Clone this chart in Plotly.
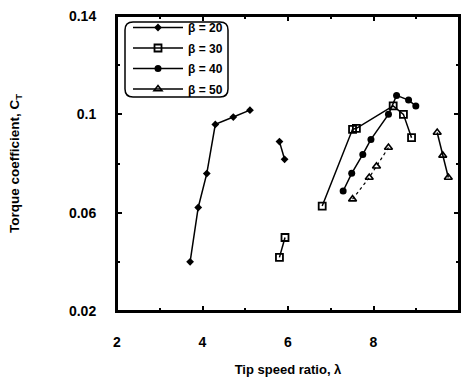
import plotly.graph_objects as go

# ---- data ----
b20_x = [3.71, 3.90, 4.10, 4.30, 4.72, 5.11, None, 5.80, 5.92]
b20_y = [0.0400, 0.0621, 0.0759, 0.0959, 0.0989, 0.1017, None, 0.0889, 0.0817]

b30_x = [5.80, 5.93, None, 6.80, 7.51, 7.60, 8.46, 8.70, 8.89]
b30_y = [0.0418, 0.0499, None, 0.0627, 0.0939, 0.0943, 0.1034, 0.1000, 0.0905]

b40_x = [7.29, 7.49, 7.75, 7.94, 8.35, 8.54, 8.82, 8.99]
b40_y = [0.0688, 0.0760, 0.0837, 0.0898, 0.1000, 0.1077, 0.1058, 0.1034]

b50_x = [7.51, 7.90, 8.07, 8.35]
b50_y = [0.0655, 0.0743, 0.0789, 0.0865]
b50b_x = [9.49, 9.62, 9.75]
b50b_y = [0.0926, 0.0833, 0.0743]

x_range = [2, 10]
y_range = [0.02, 0.14]
x_ticks = [2, 4, 6, 8, 10]
y_ticks = [0.02, 0.06, 0.1, 0.14]
y_labels = ["0.02", "0.06", "0.1", "0.14"]
y_minor = [0.04, 0.08, 0.12]

FONT = "Liberation Sans, Arial, sans-serif"

fig = go.Figure()
fig.add_trace(go.Scatter(x=b20_x, y=b20_y, mode="lines+markers", name="β = 20", legendgroup="a",
                         line=dict(color="black", width=1.5),
                         marker=dict(symbol="diamond", size=6, color="black")))
fig.add_trace(go.Scatter(x=b30_x, y=b30_y, mode="lines+markers", name="β = 30", legendgroup="b",
                         line=dict(color="black", width=1.5),
                         marker=dict(symbol="square-open", size=7, color="black",
                                     line=dict(width=1.8, color="black"))))
fig.add_trace(go.Scatter(x=b40_x, y=b40_y, mode="lines+markers", name="β = 40", legendgroup="c",
                         line=dict(color="black", width=1.5),
                         marker=dict(symbol="circle", size=7, color="black")))
fig.add_trace(go.Scatter(x=b50_x, y=b50_y, mode="lines+markers", showlegend=False, legendgroup="d",
                         line=dict(color="black", width=1.2, dash="dot"),
                         marker=dict(symbol="triangle-up-open", size=7, color="black",
                                     line=dict(width=1.6, color="black"))))
fig.add_trace(go.Scatter(x=b50b_x, y=b50b_y, mode="lines+markers", name="β = 50", legendgroup="d",
                         line=dict(color="black", width=1.5),
                         marker=dict(symbol="triangle-up-open", size=7, color="black",
                                     line=dict(width=1.6, color="black"))))

# plot area in pixels -> paper helpers
L, R, T, B = 117.0, 459.0, 16.0, 311.0
def px(xp): return (xp - L) / (R - L)
def py(yp): return (B - yp) / (B - T)

# rounded legend box
x0, x1, y0, y1, r = 125, 228, 22, 97, 8
path = (f"M {px(x0+r)},{py(y0)} L {px(x1-r)},{py(y0)} Q {px(x1)},{py(y0)} {px(x1)},{py(y0+r)} "
        f"L {px(x1)},{py(y1-r)} Q {px(x1)},{py(y1)} {px(x1-r)},{py(y1)} "
        f"L {px(x0+r)},{py(y1)} Q {px(x0)},{py(y1)} {px(x0)},{py(y1-r)} "
        f"L {px(x0)},{py(y0+r)} Q {px(x0)},{py(y0)} {px(x0+r)},{py(y0)} Z")
fig.add_shape(type="path", path=path, xref="paper", yref="paper",
              line=dict(color="black", width=1.5), layer="above")
# plot frame
fig.add_shape(type="rect", xref="paper", yref="paper", x0=0, y0=0, x1=1, y1=1,
              line=dict(color="black", width=2), layer="above")

axis_common = dict(showline=True, linecolor="black", linewidth=2, mirror="allticks",
                   ticks="inside", ticklen=5, tickwidth=1.5, tickcolor="black",
                   showgrid=False, zeroline=False,
                   tickfont=dict(family=FONT, size=14, color="black", weight="bold"))

fig.update_xaxes(range=x_range, tickvals=x_ticks,
                 minor=dict(dtick=1, ticks="inside", ticklen=3, tickwidth=1.5, tickcolor="black"),
                 ticklabelstandoff=17,
                 title=dict(text="Tip speed ratio, λ", standoff=16,
                            font=dict(family=FONT, size=13, color="black", weight="bold")),
                 **axis_common)
fig.update_yaxes(range=y_range, tickvals=y_ticks, ticktext=y_labels,
                 minor=dict(tickvals=y_minor, ticks="inside", ticklen=3, tickwidth=1.5, tickcolor="black"),
                 ticklabelstandoff=16,
                 title=dict(text="Torque coefficient, C<sub>T</sub>", standoff=46,
                            font=dict(family=FONT, size=13.5, color="black", weight="bold")),
                 **axis_common)

fig.update_layout(width=465, height=385,
                  margin=dict(l=117, r=6, t=16, b=74, autoexpand=False),
                  paper_bgcolor="white", plot_bgcolor="white",
                  showlegend=True,
                  legend=dict(x=px(128), y=py(13), xanchor="left", yanchor="top",
                              bgcolor="rgba(0,0,0,0)", borderwidth=0,
                              itemwidth=50, tracegroupgap=1.5,
                              font=dict(family=FONT, size=12, color="black", weight="bold")))

fig.write_html("out.html")
